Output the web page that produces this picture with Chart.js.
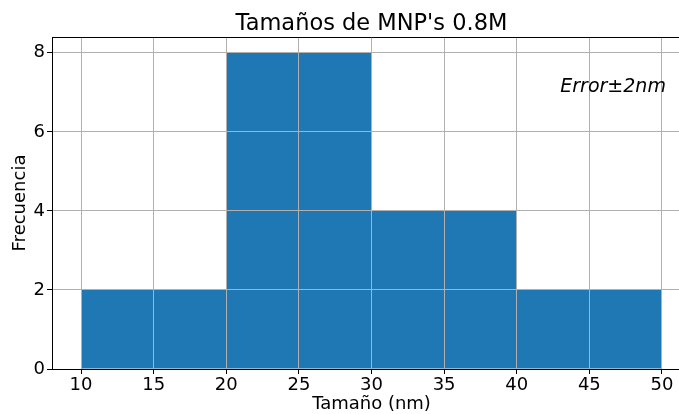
<!DOCTYPE html>
<html>
<head>
<meta charset="utf-8">
<script src="https://cdn.jsdelivr.net/npm/chart.js@4"></script>
<style>
html, body { margin: 0; padding: 0; background: #fff; overflow: hidden; }
#wrap { width: 679px; height: 414px; overflow: hidden; }
</style>
</head>
<body>
<div id="wrap"><canvas id="histChart" width="691" height="414"></canvas></div>
<script>
// Histogram data
var binEdges = [10, 20, 30, 40, 50];
var counts = [2, 8, 4, 2];
var xTicks = [10, 15, 20, 25, 30, 35, 40, 45, 50];
var yTicks = [0, 2, 4, 6, 8];
var noteText = 'Error±2nm';
var notePos = [43, 7];

var FONT = '"DejaVu Sans", sans-serif';

var barData = counts.map(function(c, i) {
    return { x: (binEdges[i] + binEdges[i + 1]) / 2, y: c };
});
// chart.js measures bar room from the tick spacing too, so widen to one full bin
var binToTick = (binEdges[1] - binEdges[0]) / (xTicks[1] - xTicks[0]);

// top spine + the italic note
var frameAndNote = {
    id: 'frameAndNote',
    afterDraw: function(chart) {
        var ctx = chart.ctx, a = chart.chartArea;
        ctx.save();
        ctx.strokeStyle = '#000';
        ctx.lineWidth = 1;
        ctx.beginPath();
        ctx.moveTo(a.left, a.top + 0.5);
        ctx.lineTo(a.right, a.top + 0.5);
        ctx.stroke();
        ctx.font = 'italic 19px ' + FONT;
        ctx.fillStyle = '#000';
        ctx.textAlign = 'left';
        ctx.textBaseline = 'alphabetic';
        ctx.fillText(noteText, chart.scales.x.getPixelForValue(notePos[0]), chart.scales.y.getPixelForValue(notePos[1]));
        ctx.restore();
    }
};

document.addEventListener('DOMContentLoaded', function() {
    var ctx = document.getElementById('histChart').getContext('2d');
    new Chart(ctx, {
        type: 'bar',
        data: {
            datasets: [{
                data: barData,
                backgroundColor: '#1f77b4',
                borderWidth: 0,
                barPercentage: binToTick,
                categoryPercentage: 1
            }]
        },
        options: {
            responsive: false,
            animation: false,
            layout: { padding: 0 },
            plugins: {
                legend: { display: false },
                tooltip: { enabled: false },
                title: {
                    display: true,
                    text: "Tamaños de MNP's 0.8M",
                    fullSize: false,
                    color: '#000',
                    font: { family: FONT, size: 22.5, weight: 'normal', lineHeight: 1 },
                    padding: { top: 13.25, bottom: 1.25 }
                }
            },
            scales: {
                x: {
                    type: 'linear',
                    min: 8,
                    max: 52,
                    offset: false,
                    afterBuildTicks: function(s) { s.ticks = xTicks.map(function(v) { return { value: v }; }); },
                    afterFit: function(s) { s.height = 45; },
                    grid: { offset: false, color: '#b0b0b0', lineWidth: 1, tickColor: '#000', tickLength: 5, z: 1 },
                    border: { color: '#000', width: 1, z: 2 },
                    ticks: { color: '#000', padding: 1, maxRotation: 0, font: { family: FONT, size: 18 } },
                    title: { display: true, text: 'Tamaño (nm)', color: '#000', padding: { top: 0, bottom: -1 }, font: { family: FONT, size: 18 } }
                },
                y: {
                    min: 0,
                    max: 8.4,
                    afterBuildTicks: function(s) { s.ticks = yTicks.map(function(v) { return { value: v }; }); },
                    afterFit: function(s) { s.width = 52; },
                    grid: { color: '#b0b0b0', lineWidth: 1, tickColor: '#000', tickLength: 5, z: 1 },
                    border: { color: '#000', width: 1, z: 2 },
                    ticks: { color: '#000', padding: 2, font: { family: FONT, size: 18 } },
                    title: { display: true, text: 'Frecuencia', color: '#000', padding: { top: 10, bottom: 0 }, font: { family: FONT, size: 18 } }
                }
            }
        },
        plugins: [frameAndNote]
    });
});
</script>
</body>
</html>
